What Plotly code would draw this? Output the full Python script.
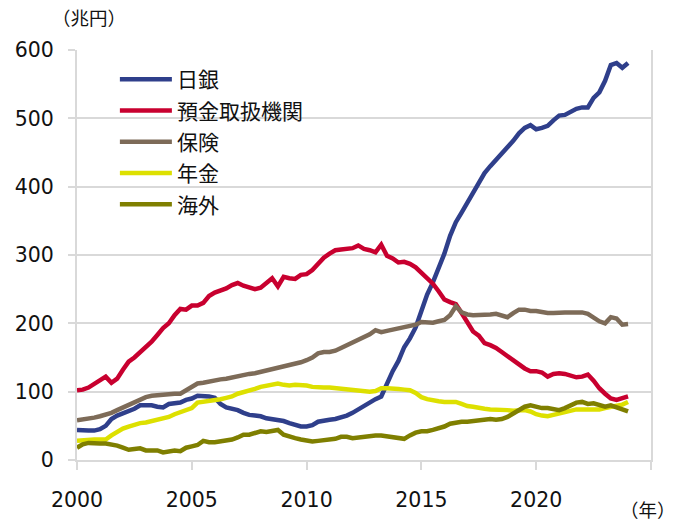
import numpy as np
import plotly.graph_objects as go

# quarterly observations, 2000Q1 .. 2024Q1
years = [2000 + 0.25 * i for i in range(97)]

boj = [44, 43, 43, 43,
       45, 50, 60, 65,
       68, 71, 75, 80,
       80, 80, 78, 77,
       82, 83, 84, 88,
       90, 94, 94, 93,
       91, 82, 77, 75,
       73, 69, 66, 65,
       64, 61, 60, 58,
       57, 54, 51, 49,
       49, 51, 56, 58,
       59, 60, 62, 65,
       69, 74, 79, 85,
       89, 93, 112, 130,
       145, 165, 178, 194,
       218, 242, 260, 280,
       302, 328, 348, 362,
       376, 392, 406, 420,
       430, 439, 447, 456,
       467, 478, 486, 490,
       484, 486, 489, 497,
       504, 505, 509, 514,
       516, 516, 530, 538,
       555, 578, 581, 574,
       581]

banks = [102, 103, 106, 112,
         118, 122, 113, 119,
         132, 144, 150, 157,
         164, 173, 183, 193,
         200, 212, 221, 220,
         226, 226, 230, 240,
         245, 248, 251, 256,
         259, 255, 253, 250,
         252, 260, 266, 254,
         268, 266, 265, 271,
         272, 278, 288, 296,
         302, 307, 308, 309,
         310, 314, 309, 307,
         304, 315, 299, 295,
         289, 290, 287, 282,
         274, 265, 258, 247,
         235, 231, 228, 215,
         200, 188, 182, 171,
         168, 164, 158, 152,
         147, 139, 134, 130,
         130, 128, 122, 126,
         127, 126, 123, 121,
         122, 125, 116, 105,
         97, 90, 88, 90,
         93]

insurance = [58, 59, 60, 62,
             64, 66, 69, 73,
             77, 80, 84, 88,
             92, 94, 95, 96,
             96, 97, 97, 102,
             108, 112, 113, 115,
             117, 118, 119, 121,
             123, 125, 126, 127,
             129, 131, 132, 134,
             137, 139, 141, 143,
             146, 150, 156, 158,
             158, 160, 164, 168,
             172, 177, 181, 184,
             190, 187, 189, 191,
             192, 194, 196, 198,
             202, 201, 201, 203,
             205, 212, 225, 216,
             213, 212, 212, 213,
             213, 214, 211, 209,
             215, 220, 220, 218,
             218, 216, 215, 215,
             216, 216, 216, 216,
             216, 214, 208, 203,
             200, 209, 207, 198,
             199]

pension = [28, 29, 30, 30,
           30, 30, 36, 42,
           46, 49, 52, 54,
           55, 57, 59, 61,
           63, 67, 70, 73,
           76, 84, 85, 86,
           87, 89, 91, 93,
           97, 99, 102, 104,
           107, 109, 111, 112,
           110, 109, 110, 110,
           109, 107, 106, 106,
           106, 105, 104, 103,
           103, 102, 101, 100,
           101, 105, 105, 105,
           104, 103, 102, 98,
           92, 89, 87, 86,
           85, 85, 85, 82,
           79, 78, 76, 75,
           74, 74, 73, 73,
           72, 73, 73, 71,
           67, 65, 64, 66,
           68, 70, 73, 74,
           74, 74, 74, 74,
           76, 78, 79, 81,
           85]

overseas = [18, 23, 25, 24,
            24, 24, 23, 21,
            18, 15, 16, 17,
            14, 14, 14, 11,
            13, 14, 13, 18,
            20, 22, 28, 26,
            26, 27, 28, 30,
            33, 37, 37, 40,
            42, 41, 42, 44,
            37, 34, 32, 30,
            28, 27, 28, 29,
            30, 31, 34, 34,
            32, 33, 35, 35,
            36, 36, 35, 34,
            33, 31, 36, 40,
            42, 42, 44, 46,
            49, 53, 55, 56,
            56, 57, 58, 60,
            60, 59, 60, 63,
            68, 74, 78, 80,
            78, 76, 76, 74,
            73, 76, 80, 84,
            85, 82, 83, 80,
            78, 80, 77, 75,
            71]

names = ["日銀", "預金取扱機関", "保険", "年金", "海外"]
colors = ["#2f3f8b", "#c8002f", "#7d6b58", "#dde000", "#7f7f00"]
series = [boj, banks, insurance, pension, overseas]

x_tickvals = [2000, 2005, 2010, 2015, 2020, 2025]
x_ticktext = ["2000", "2005", "2010", "2015", "2020", ""]
y_tickvals = [0, 100, 200, 300, 400, 500, 600]

FONT = "DejaVu Sans, Verdana, Noto Sans CJK JP, sans-serif"
GRID = "#d9d9d9"

fig = go.Figure()
for i, (n, c, s) in enumerate(zip(names, colors, series)):
    fig.add_trace(go.Scatter(x=years, y=s, mode="lines", name=n,
                             legendgroup=f"g{i}",
                             line=dict(color=c, width=4.5)))

# page body has an 8px margin, so the figure is 8px smaller and offset
fig.update_layout(
    width=670, height=513,
    margin=dict(l=69, r=27, t=42, b=61, autoexpand=False),
    paper_bgcolor="white", plot_bgcolor="white",
    font=dict(family=FONT, size=20.5, color="#111111"),
    showlegend=True,
    legend=dict(x=0.066, y=0.978, xanchor="left", yanchor="top",
                bgcolor="rgba(0,0,0,0)", font=dict(size=21, family=FONT),
                tracegroupgap=1, itemwidth=52),
    xaxis=dict(range=[2000, 2025], tickvals=x_tickvals, ticktext=x_ticktext,
               showgrid=False, zeroline=False, showline=True, linecolor=GRID,
               linewidth=2, ticks="outside", ticklen=8, tickcolor=GRID,
               tickwidth=2, ticklabelstandoff=12, automargin=False),
    yaxis=dict(range=[0, 600], tickvals=y_tickvals, showgrid=True,
               gridcolor=GRID, gridwidth=2, zeroline=False, showline=True,
               mirror=True, linecolor=GRID, linewidth=2, ticks="outside",
               ticklen=7, tickcolor=GRID, tickwidth=2, ticklabelstandoff=10,
               automargin=False),
    annotations=[
        dict(text="（兆円）", xref="paper", yref="paper", x=0.005, y=1.0,
             xanchor="center", yanchor="middle", yshift=32, xshift=9,
             showarrow=False, font=dict(size=18.5, family=FONT)),
        dict(text="（年）", xref="paper", yref="paper", x=0.995, y=0,
             xanchor="center", yanchor="middle", yshift=-50, showarrow=False,
             font=dict(size=18.5, family=FONT)),
    ],
)

fig.write_html("out.html")
